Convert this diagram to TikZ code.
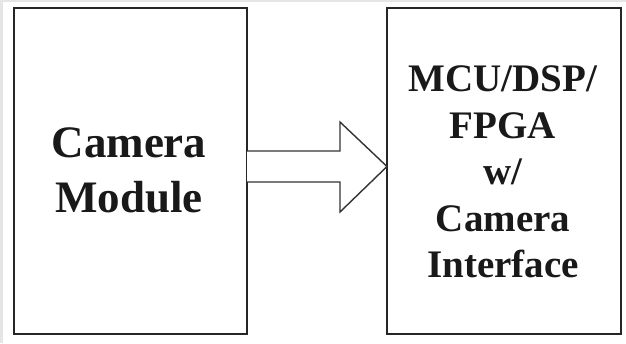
\documentclass[tikz,border=0pt]{standalone}
\usepackage{fontspec}
\setmainfont{Liberation Serif}
\begin{document}
\begin{tikzpicture}[x=1pt,y=-1pt,
  blockbox/.style={draw=black!85,line width=2pt,fill=white},
  bigtext/.style={font=\fontsize{45}{55}\selectfont\bfseries,align=center,text=black!90,inner sep=0pt},
  smalltext/.style={font=\fontsize{39}{46.5}\selectfont\bfseries,align=center,text=black!90,inner sep=0pt},
  fatarrow/.style={draw=black!80,line width=1.4pt,fill=white,line join=miter}]
\useasboundingbox (0,0) rectangle (626,343);
\fill[white] (0,0) rectangle (626,343);
\fill[black!10] (0,0) rectangle (626,2);
\fill[black!10] (0,0) rectangle (3,343);
\draw[blockbox] (14,8) rectangle (247,334);
\draw[blockbox] (387,8) rectangle (621,334);
\coordinate (camtop) at (247,151);
\coordinate (cambot) at (247,182);
\coordinate (mcu) at (387,166.5);
\node[bigtext] (camtxt) at (129,170) {Camera\\Module};
\node[smalltext] (mcutxt) at (503,172) {MCU/DSP/\\FPGA\\w/\\Camera\\Interface};
\draw[fatarrow] (camtop) -- (340,151) -- (340,122) -- (mcu) -- (340,212) -- (340,182) -- (cambot);
\end{tikzpicture}
\end{document}
